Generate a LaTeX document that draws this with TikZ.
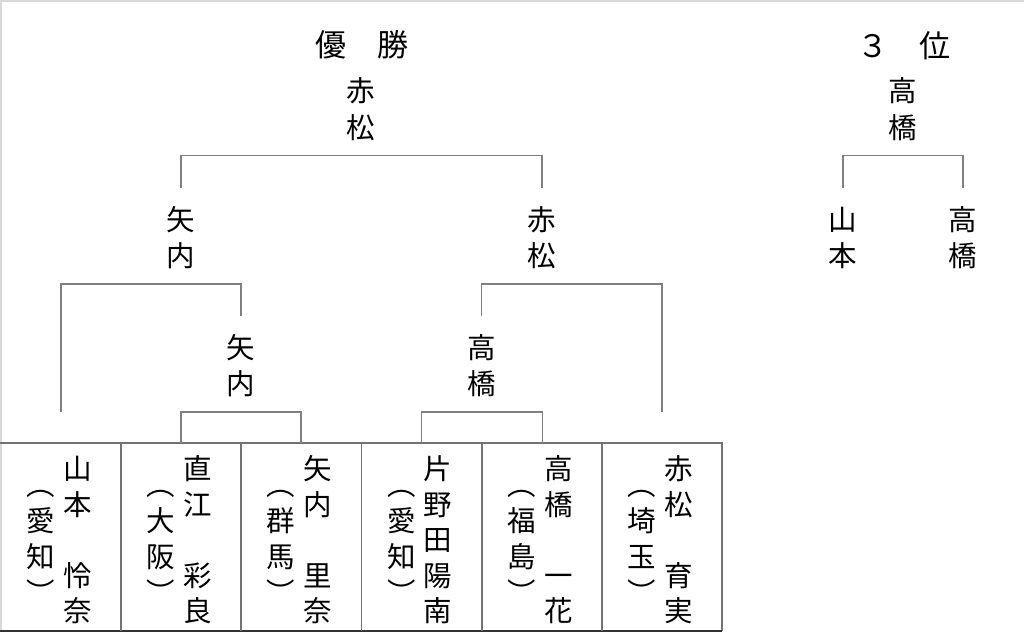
\documentclass[tikz,border=0pt]{standalone}
\usepackage{fontspec}
\newfontfamily\jp{Noto Sans CJK JP}
\tikzset{
  lbl/.style={font=\jp\fontsize{28.5}{28.5}\selectfont, inner sep=0pt, anchor=base},
  ttl/.style={font=\jp\fontsize{31}{31}\selectfont, inner sep=0pt, anchor=base},
  br/.style={draw=black!50, line width=1.3pt},
  tbl/.style={draw=black!55, line width=1.3pt},
  tblb/.style={draw=black!80, line width=1.5pt},
  frm/.style={draw=black!15, line width=1.5pt}
}
\newcommand\vcol[5]{%
  \foreach \ch [count=\k] in {#5} {
    \node[lbl] (#1-\k) at (#2, {#3+(\k-1)*#4+10.8}) {\ch};
  }}
\begin{document}
\begin{tikzpicture}[x=1pt,y=-1pt]
\useasboundingbox (0,0) rectangle (1024,632);
\fill[white] (0,0) rectangle (1024,632);
% frame (top and left only)
\coordinate (f0) at (0,0.75);
\coordinate (f1) at (1024,0.75);
\coordinate (f2) at (0.75,0);
\coordinate (f3) at (0.75,632);
\draw[frm] (f0) -- (f1);
\draw[frm] (f2) -- (f3);
% titles
\node[ttl] (title1) at (362,56.8) {優　勝};
\node[ttl] (title3) at (903.5,57.8) {３　位};
% table grid
\coordinate (tl) at (0,443);
\coordinate (tr) at (722,443);
\coordinate (bl) at (0,631);
\coordinate (brr) at (722,631);
\draw[tbl] (tl) -- (tr) -- (brr);
\draw[tblb] (bl) -- (brr);
\foreach \xx [count=\j] in {121,241,361.5,482,602} {
  \coordinate (vt\j) at (\xx,443);
  \coordinate (vb\j) at (\xx,631);
  \draw[tbl] (vt\j) -- (vb\j);
}
% table entries
\vcol{n1}{77.5}{469}{35.5}{山,本,{},怜,奈}
\vcol{p1}{41}{485}{36}{︵,愛,知,︶}
\vcol{n2}{197.5}{469}{35.5}{直,江,{},彩,良}
\vcol{p2}{161}{485}{36}{︵,大,阪,︶}
\vcol{n3}{317.5}{469}{35.5}{矢,内,{},里,奈}
\vcol{p3}{281}{485}{36}{︵,群,馬,︶}
\vcol{n4}{438}{469}{35.5}{片,野,田,陽,南}
\vcol{p4}{401.5}{485}{36}{︵,愛,知,︶}
\vcol{n5}{558.5}{469}{35.5}{高,橋,{},一,花}
\vcol{p5}{522}{485}{36}{︵,福,島,︶}
\vcol{n6}{678.5}{469}{35.5}{赤,松,{},育,実}
\vcol{p6}{642}{485}{36}{︵,埼,玉,︶}
% result labels
\vcol{w1}{361}{91}{36.5}{赤,松}
\vcol{s1}{181}{219.5}{36.5}{矢,内}
\vcol{s2}{541.5}{219.5}{36.5}{赤,松}
\vcol{q1}{241}{347.5}{36.5}{矢,内}
\vcol{q2}{481.7}{347.5}{36.5}{高,橋}
\vcol{t1}{903}{91}{36.5}{高,橋}
\vcol{t2}{843}{219.5}{36.5}{山,本}
\vcol{t3}{963}{219.5}{36.5}{高,橋}
% bracket coordinates
\coordinate (a1) at (181,443);  \coordinate (a2) at (181,412);
\coordinate (a3) at (301,412);  \coordinate (a4) at (301,443);
\coordinate (b1) at (61,412);   \coordinate (b2) at (61,284);
\coordinate (b3) at (241,284);  \coordinate (b4) at (241,316);
\coordinate (c1) at (421.7,443);\coordinate (c2) at (421.7,412);
\coordinate (c3) at (542.5,412);\coordinate (c4) at (542.5,443);
\coordinate (d1) at (481.7,316);\coordinate (d2) at (481.7,284);
\coordinate (d3) at (662,284);  \coordinate (d4) at (662,412);
\coordinate (e1) at (181,188);  \coordinate (e2) at (181,155.7);
\coordinate (e3) at (542,155.7);\coordinate (e4) at (542,188);
\coordinate (g1) at (843,188);  \coordinate (g2) at (843,155.7);
\coordinate (g3) at (963,155.7);\coordinate (g4) at (963,188);
\draw[br] (a1) -- (a2) -- (a3) -- (a4);
\draw[br] (b1) -- (b2) -- (b3) -- (b4);
\draw[br] (c1) -- (c2) -- (c3) -- (c4);
\draw[br] (d1) -- (d2) -- (d3) -- (d4);
\draw[br] (e1) -- (e2) -- (e3) -- (e4);
\draw[br] (g1) -- (g2) -- (g3) -- (g4);
\end{tikzpicture}
\end{document}
